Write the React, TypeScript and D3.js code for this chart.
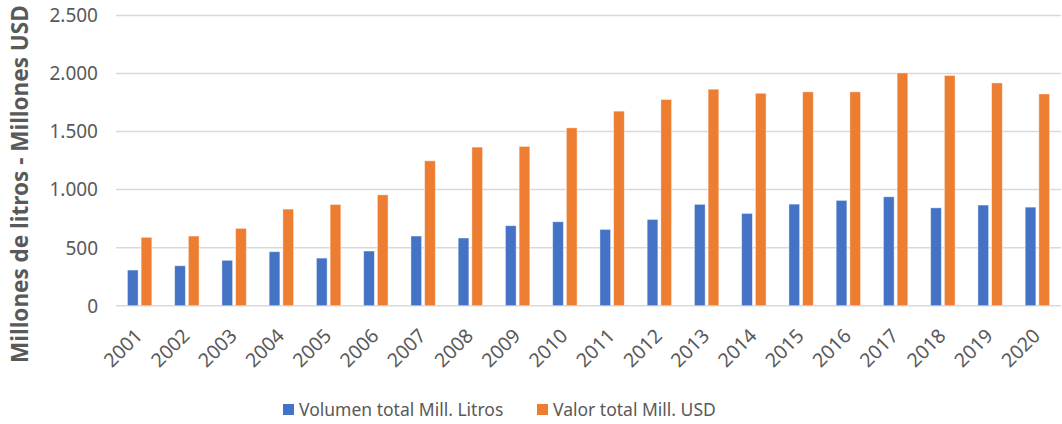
import { useEffect } from 'react';
import * as d3 from 'd3';

const years = [
  '2001', '2002', '2003', '2004', '2005', '2006', '2007', '2008', '2009', '2010',
  '2011', '2012', '2013', '2014', '2015', '2016', '2017', '2018', '2019', '2020',
];
const volumen = [307, 344, 391, 465, 410, 471, 600, 583, 689, 723, 657, 743, 873, 795, 875, 907, 938, 843, 867, 849];
const valor = [589, 600, 666, 832, 872, 955, 1248, 1366, 1372, 1532, 1676, 1776, 1865, 1830, 1842, 1842, 2005, 1983, 1919, 1824];
const yTicks = [0, 500, 1000, 1500, 2000, 2500];
const seriesNames = ['Volumen total Mill. Litros', 'Valor total Mill. USD'];

const W = 1062;
const H = 424;
const BLUE = '#4472C4';
const ORANGE = '#ED7D31';
const TEXT = '#595959';
const GRID = '#d9d9d9';
const FONT = '"Noto Sans", "Open Sans", sans-serif';

export default function App() {
  useEffect(() => {
    document.body.style.margin = '0';
  }, []);

  const x = d3.scaleBand<string>().domain(years).range([116, 1061]).paddingInner(0).paddingOuter(0);
  const y = d3.scaleLinear().domain([0, 2500]).range([305.7, 15.5]);
  const bw = x.bandwidth();
  const barW = bw * 0.226;
  const gap = bw * 0.064;
  const fmt = (v: number) => d3.format(',')(v).replace(/,/g, '.');

  return (
    <svg width={W} height={H} style={{ display: 'block', fontFamily: FONT }}>
      <rect width={W} height={H} fill="#fff" />

      {/* grid */}
      {yTicks.map((t) => (
        <line key={t} x1={116} x2={1061} y1={y(t)} y2={y(t)} stroke={GRID} strokeWidth={1.5} />
      ))}

      {/* y tick labels */}
      {yTicks.map((t) => (
        <text key={t} x={98} y={y(t)} dy="0.36em" textAnchor="end" fontSize={19} fill={TEXT}>
          {fmt(t)}
        </text>
      ))}

      {/* y title */}
      <text
        transform="translate(28, 363) rotate(-90)"
        textAnchor="start"
        fontSize={22.5}
        fontWeight="bold"
        fill={TEXT}
      >
        Millones de litros - Millones USD
      </text>

      {/* bars */}
      {years.map((yr, i) => {
        const c = (x(yr) as number) + bw / 2;
        return (
          <g key={yr}>
            <rect
              x={c - gap / 2 - barW}
              y={y(volumen[i])}
              width={barW}
              height={y(0) - y(volumen[i])}
              fill={BLUE}
              stroke="#fff"
              strokeOpacity={0.5}
              strokeWidth={0.8}
            />
            <rect
              x={c + gap / 2}
              y={y(valor[i])}
              width={barW}
              height={y(0) - y(valor[i])}
              fill={ORANGE}
              stroke="#fff"
              strokeOpacity={0.5}
              strokeWidth={0.8}
            />
          </g>
        );
      })}

      {/* x tick labels */}
      {years.map((yr) => {
        const c = (x(yr) as number) + bw / 2;
        return (
          <text
            key={yr}
            transform={`translate(${c + 4}, 337) rotate(-45)`}
            textAnchor="end"
            fontSize={19.5}
            fill={TEXT}
          >
            {yr}
          </text>
        );
      })}

      {/* legend */}
      <g>
        <rect x={283} y={404} width={11} height={11} fill={BLUE} />
        <text x={299} y={410} dy="0.36em" fontSize={17.5} fill={TEXT}>
          {seriesNames[0]}
        </text>
        <rect x={537} y={404} width={11} height={11} fill={ORANGE} />
        <text x={553} y={410} dy="0.36em" fontSize={17.5} fill={TEXT}>
          {seriesNames[1]}
        </text>
      </g>
    </svg>
  );
}
